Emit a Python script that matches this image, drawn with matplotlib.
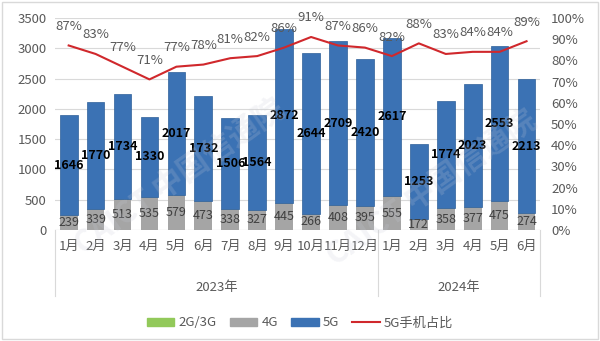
import matplotlib.pyplot as plt
from matplotlib.patches import Patch, Rectangle
from matplotlib.lines import Line2D
from matplotlib.ticker import PercentFormatter

plt.rcParams['font.family'] = ['Noto Sans CJK SC', 'DejaVu Sans']

months = ['1月', '2月', '3月', '4月', '5月', '6月', '7月', '8月', '9月', '10月', '11月', '12月',
          '1月', '2月', '3月', '4月', '5月', '6月']
years = ['2023年', '2024年']
g23 = [6, 5, 4, 5, 4, 5, 3, 3, 4, 3, 3, 3, 3, 2, 2, 2, 2, 2]
g4 = [239, 339, 513, 535, 579, 473, 338, 327, 445, 266, 408, 395, 555, 172, 358, 377, 475, 274]
g5 = [1646, 1770, 1734, 1330, 2017, 1732, 1506, 1564, 2872, 2644, 2709, 2420, 2617, 1253, 1774, 2023, 2553, 2213]
share = [87, 83, 77, 71, 77, 78, 81, 82, 86, 91, 87, 86, 82, 88, 83, 84, 84, 89]

c_green = '#92c95a'
c_gray = '#a5a5a5'
c_blue = '#3b72b4'
c_red = '#d0282c'
c_text = '#595959'

fig = plt.figure(figsize=(6, 3.41), dpi=100)
ax = fig.add_axes([0.092, 0.3255, 0.808, 0.622])
ax2 = ax.twinx()

x = list(range(len(months)))
w = 0.66
ax.bar(x, g23, w, color=c_green, zorder=3)
ax.bar(x, g4, w, bottom=g23, color=c_gray, zorder=3)
base5 = [a + b for a, b in zip(g23, g4)]
ax.bar(x, g5, w, bottom=base5, color=c_blue, edgecolor='#2e6099', linewidth=0.5, zorder=3)

for i in x:
    ax.text(i, g23[i] + g4[i] / 2, str(g4[i]), ha='center', va='center',
            fontsize=9, color='#404040', zorder=5)
    ax.text(i, base5[i] + g5[i] / 2, str(g5[i]), ha='center', va='center',
            fontsize=9, fontweight='bold', color='black', zorder=5)

ax.set_xlim(-0.5, len(months) - 0.5)
ax.set_ylim(0, 3500)
ax.set_yticks(range(0, 3501, 500))
ax.yaxis.grid(True, color='#d9d9d9', linewidth=0.8, zorder=0)
ax.set_axisbelow(True)
ax.tick_params(axis='y', length=0, labelsize=9.5, labelcolor=c_text, pad=6)
ax.set_xticks([])
for s in ax.spines.values():
    s.set_visible(False)
for s in ax2.spines.values():
    s.set_visible(False)
ax.axhline(0, color='#d9d9d9', linewidth=0.8, zorder=2)

ax2.plot(x, share, color=c_red, linewidth=1.5, zorder=4)
for i in x:
    ax2.annotate(f'{share[i]}%', (i, share[i]), xytext=(0, 9), textcoords='offset points',
                 ha='center', va='bottom', fontsize=9.5, color=c_text)
ax2.set_ylim(0, 100)
ax2.set_yticks(range(0, 101, 10))
ax2.yaxis.set_major_formatter(PercentFormatter(decimals=0))
ax2.tick_params(axis='y', length=0, labelsize=9.5, labelcolor=c_text, pad=8)

# two-level category axis
tr = ax.get_xaxis_transform()
for i in x:
    ax.text(i, -0.045, months[i], transform=tr, ha='center', va='top', fontsize=9.5, color=c_text)
ax.text(5.5, -0.24, years[0], transform=tr, ha='center', va='top', fontsize=9.5, color=c_text)
ax.text(14.5, -0.24, years[1], transform=tr, ha='center', va='top', fontsize=9.5, color=c_text)
for xs in [-0.5, 11.5, 17.5]:
    ax.plot([xs, xs], [0, -0.31], transform=tr, color='#d9d9d9', linewidth=0.8, clip_on=False)

# watermark
fig.text(0.3, 0.48, 'CAICT 中国信通院', fontsize=22, color='#c8cbd8', alpha=0.2,
         rotation=35, ha='center', va='center', fontweight='bold')
fig.text(0.72, 0.45, 'CAICT 中国信通院', fontsize=22, color='#c8cbd8', alpha=0.2,
         rotation=35, ha='center', va='center', fontweight='bold')

handles = [Patch(color=c_green), Patch(color=c_gray), Patch(color=c_blue),
           Line2D([], [], color=c_red, linewidth=1.5)]
fig.legend(handles, ['2G/3G', '4G', '5G', '5G手机占比'], loc='center', ncol=4,
           bbox_to_anchor=(0.5, 0.053), frameon=False, fontsize=9.5, labelcolor=c_text,
           handlelength=2.1, handleheight=0.5, columnspacing=1.0, handletextpad=0.3)

fig.patches.append(Rectangle((0.003, 0.005), 0.994, 0.99, transform=fig.transFigure,
                             fill=False, edgecolor='#d9d9d9', linewidth=1))

fig.savefig('out.png', dpi=100)
